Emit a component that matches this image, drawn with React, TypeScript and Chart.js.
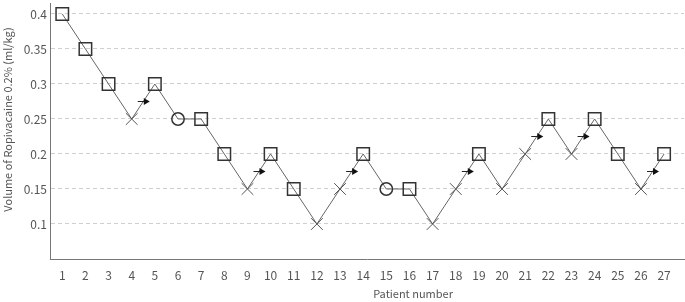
import React, { useEffect, useRef } from "react";
import { Chart, registerables } from "chart.js";

Chart.register(...registerables);

const patients = [1, 2, 3, 4, 5, 6, 7, 8, 9, 10, 11, 12, 13, 14, 15, 16, 17, 18, 19, 20, 21, 22, 23, 24, 25, 26, 27];
const volumes = [0.4, 0.35, 0.3, 0.25, 0.3, 0.25, 0.25, 0.2, 0.15, 0.2, 0.15, 0.1, 0.15, 0.2, 0.15, 0.15, 0.1, 0.15, 0.2, 0.15, 0.2, 0.25, 0.2, 0.25, 0.2, 0.15, 0.2];
// S = square, X = cross, O = circle
const markers = ["S", "S", "S", "X", "S", "O", "S", "S", "X", "S", "S", "X", "X", "S", "O", "S", "X", "X", "S", "X", "X", "S", "X", "S", "S", "X", "S"];
// arrow drawn on the segment starting at these patient numbers
const arrowStarts = [4, 9, 13, 18, 21, 23, 26];
const yTicks = [0.1, 0.15, 0.2, 0.25, 0.3, 0.35, 0.4];

const yTitle = "Volume of Ropivacaine 0.2% (ml/kg)";
const xTitle = "Patient number";

const FONT = '"Noto Sans CJK SC", "Noto Sans", sans-serif';
const TEXT_COLOR = "#555";

const arrowPlugin = {
  id: "arrows",
  afterDatasetsDraw(chart: any) {
    const ctx = chart.ctx;
    const xs = chart.scales.x;
    const ys = chart.scales.y;
    ctx.save();
    arrowStarts.forEach((p) => {
      const i = patients.indexOf(p);
      const x1 = xs.getPixelForValue(patients[i]);
      const x2 = xs.getPixelForValue(patients[i + 1]);
      const y1 = ys.getPixelForValue(volumes[i]);
      const y2 = ys.getPixelForValue(volumes[i + 1]);
      const mx = (x1 + x2) / 2;
      const my = Math.round((y1 + y2) / 2) + 0.5;
      ctx.strokeStyle = "#222";
      ctx.lineWidth = 1;
      ctx.beginPath();
      ctx.moveTo(mx - 5.5, my);
      ctx.lineTo(mx + 1, my);
      ctx.stroke();
      ctx.fillStyle = "#111";
      ctx.beginPath();
      ctx.moveTo(mx + 0.5, my - 3.5);
      ctx.lineTo(mx + 6.5, my);
      ctx.lineTo(mx + 0.5, my + 3.5);
      ctx.closePath();
      ctx.fill();
    });
    ctx.restore();
  },
};

const titlePlugin = {
  id: "titles",
  afterDraw(chart: any) {
    const ctx = chart.ctx;
    ctx.save();
    ctx.fillStyle = TEXT_COLOR;
    ctx.font = `11px ${FONT}`;
    ctx.textAlign = "center";
    ctx.textBaseline = "middle";
    ctx.fillText(xTitle, chart.width * 0.603, chart.height - 8);
    ctx.translate(8, 119.5);
    ctx.rotate(-Math.PI / 2);
    ctx.fillText(yTitle, 0, 0);
    ctx.restore();
  },
};

export default function App() {
  const ref = useRef<HTMLCanvasElement | null>(null);
  useEffect(() => {
    document.body.style.margin = "0";
    if (!ref.current) return;
    const styleOf = (t: string) => (t === "S" ? "rect" : t === "X" ? "crossRot" : "circle");
    const radiusOf = (t: string) => (t === "S" ? 8.8 : t === "X" ? 8.3 : 6.2);
    const chart = new Chart(ref.current, {
      type: "line",
      data: {
        datasets: [
          {
            data: patients.map((p, i) => ({ x: p, y: volumes[i] })),
            borderColor: "#666",
            borderWidth: 1,
            fill: false,
            tension: 0,
            clip: false,
            pointStyle: (c: any) => styleOf(markers[c.dataIndex]),
            pointRadius: (c: any) => radiusOf(markers[c.dataIndex]),
            pointBorderColor: (c: any) => (markers[c.dataIndex] === "X" ? "#555" : "#333"),
            pointBorderWidth: (c: any) => (markers[c.dataIndex] === "X" ? 1 : 1.5),
            pointBackgroundColor: "rgba(0,0,0,0)",
          } as any,
        ],
      },
      options: {
        animation: false,
        responsive: true,
        maintainAspectRatio: false,
        layout: { autoPadding: false, padding: { top: 3, right: 1, bottom: 0, left: 0 } },
        plugins: { legend: { display: false }, tooltip: { enabled: false } },
        scales: {
          x: {
            type: "linear",
            min: 0.47,
            max: 27.86,
            afterFit: (s: any) => {
              s.height = 43;
              s.paddingLeft = 0;
              s.paddingRight = 0;
            },
            afterBuildTicks: (s: any) => {
              s.ticks = patients.map((v) => ({ value: v }));
            },
            grid: { display: false, drawTicks: false },
            border: { display: true, color: "#777", width: 1 },
            ticks: {
              padding: 9,
              color: TEXT_COLOR,
              font: { family: FONT, size: 12 },
              maxRotation: 0,
              autoSkip: false,
              callback: (v: any) => String(v),
            },
          },
          y: {
            type: "linear",
            min: 0.05,
            max: 0.4157,
            afterFit: (s: any) => {
              s.width = 50;
              s.paddingTop = 0;
              s.paddingBottom = 0;
            },
            afterBuildTicks: (s: any) => {
              s.ticks = yTicks.map((v) => ({ value: v }));
            },
            grid: { color: "#cfcfcf", lineWidth: 1, drawTicks: false },
            border: { display: true, color: "#777", width: 1, dash: [4, 3] },
            ticks: {
              padding: 3,
              color: TEXT_COLOR,
              font: { family: FONT, size: 12 },
              callback: (v: any) => String(Number(v.toFixed(2))),
            },
          },
        },
      },
      plugins: [arrowPlugin, titlePlugin],
    });
    return () => chart.destroy();
  }, []);
  return (
    <div style={{ width: 685, height: 302, position: "relative" }}>
      <canvas ref={ref} style={{ display: "block" }} />
    </div>
  );
}
